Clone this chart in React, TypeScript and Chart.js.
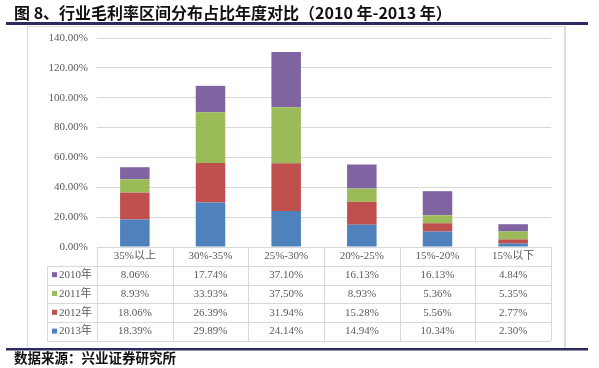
import React, { useEffect, useRef } from 'react';
import { Chart, registerables } from 'chart.js';
Chart.register(...registerables);

const categories = ['35%以上', '30%-35%', '25%-30%', '20%-25%', '15%-20%', '15%以下'];
const years = ['2010年', '2011年', '2012年', '2013年'];
const v2010 = [8.06, 17.74, 37.1, 16.13, 16.13, 4.84];
const v2011 = [8.93, 33.93, 37.5, 8.93, 5.36, 5.35];
const v2012 = [18.06, 26.39, 31.94, 15.28, 5.56, 2.77];
const v2013 = [18.39, 29.89, 24.14, 14.94, 10.34, 2.3];
const yMax = 140;
const yStep = 20;
const titleText = '图 8、行业毛利率区间分布占比年度对比（2010 年-2013 年）';
const sourceText = '数据来源：兴业证券研究所';

const colPurple = '#8064A2';
const colGreen = '#9BBB59';
const colRed = '#C0504D';
const colBlue = '#4F81BD';

const tableRows = [
  { label: years[0], color: colPurple, values: v2010 },
  { label: years[1], color: colGreen, values: v2011 },
  { label: years[2], color: colRed, values: v2012 },
  { label: years[3], color: colBlue, values: v2013 },
];

const textColor = '#595959';
const gridColor = '#d9d9d9';
const serif = "'Liberation Serif', 'Noto Sans CJK SC', serif";

const decorPlugin = {
  id: 'decor',
  beforeDraw(chart: any) {
    const ctx = chart.ctx;
    ctx.save();
    ctx.fillStyle = '#ffffff';
    ctx.fillRect(0, 0, chart.width, chart.height);
    // frame
    ctx.strokeStyle = '#dcdcdc';
    ctx.lineWidth = 1;
    ctx.strokeRect(27.5, 26.5, 537, 322);
    ctx.beginPath();
    ctx.moveTo(565.5, 26);
    ctx.lineTo(565.5, 349);
    ctx.stroke();
    // title
    ctx.fillStyle = '#111111';
    ctx.font = "bold 16px 'Noto Sans CJK SC', sans-serif";
    ctx.textBaseline = 'middle';
    ctx.textAlign = 'left';
    ctx.fillText(titleText, 14, 13);
    // navy lines
    ctx.fillStyle = '#2b2b5f';
    ctx.fillRect(6, 22, 582, 3);
    ctx.fillRect(6, 348, 582, 2.5);
    // source
    ctx.fillStyle = '#111111';
    ctx.font = "bold 13.5px 'Noto Sans CJK SC', sans-serif";
    ctx.fillText(sourceText, 14, 358);
    ctx.restore();
  },
  afterDraw(chart: any) {
    const ctx = chart.ctx;
    const ca = chart.chartArea;
    const xs = chart.scales.x;
    const n = categories.length;
    const colW = (ca.right - ca.left) / n;
    const top = ca.bottom;
    const rowH = 18.8;
    const legendLeft = 47;
    const bottom = top + rowH * 5;
    ctx.save();
    ctx.strokeStyle = gridColor;
    ctx.lineWidth = 1;
    ctx.beginPath();
    for (let k = 0; k <= 5; k++) {
      const y = Math.round(top + k * rowH) + 0.5;
      ctx.moveTo(k === 0 ? ca.left : legendLeft, y);
      ctx.lineTo(ca.right, y);
    }
    for (let j = 0; j <= n; j++) {
      const x = Math.round(ca.left + j * colW) + 0.5;
      ctx.moveTo(x, top);
      ctx.lineTo(x, bottom);
    }
    ctx.moveTo(legendLeft + 0.5, top + rowH);
    ctx.lineTo(legendLeft + 0.5, bottom);
    ctx.stroke();

    ctx.fillStyle = textColor;
    ctx.font = `11px ${serif}`;
    ctx.textBaseline = 'middle';
    ctx.textAlign = 'center';
    categories.forEach((c, i) => {
      ctx.fillText(c, xs.getPixelForValue(i), top + rowH / 2);
    });
    tableRows.forEach((r, k) => {
      const yc = top + rowH * (k + 1.5);
      ctx.fillStyle = r.color;
      ctx.fillRect(52, yc - 3, 5, 5);
      ctx.fillStyle = textColor;
      ctx.textAlign = 'left';
      ctx.fillText(r.label, 59, yc);
      ctx.textAlign = 'center';
      r.values.forEach((v, i) => {
        ctx.fillText(v.toFixed(2) + '%', xs.getPixelForValue(i), yc);
      });
    });
    ctx.restore();
  },
};

export default function App() {
  const ref = useRef<HTMLCanvasElement | null>(null);
  useEffect(() => {
    if (!ref.current) return;
    const chart = new Chart(ref.current, {
      type: 'bar',
      data: {
        labels: categories,
        datasets: [
          { label: years[3], data: v2013, backgroundColor: colBlue },
          { label: years[2], data: v2012, backgroundColor: colRed },
          { label: years[1], data: v2011, backgroundColor: colGreen },
          { label: years[0], data: v2010, backgroundColor: colPurple },
        ],
      },
      options: {
        responsive: false,
        animation: false,
        devicePixelRatio: 1,
        layout: { padding: { left: 27, right: 48, top: 38, bottom: 121 } },
        plugins: { legend: { display: false }, tooltip: { enabled: false }, title: { display: false } },
        datasets: { bar: { barPercentage: 0.6, categoryPercentage: 0.65 } },
        scales: {
          x: { stacked: true, display: false },
          y: {
            stacked: true,
            min: 0,
            max: yMax,
            afterFit: (s: any) => {
              s.width = 70;
            },
            border: { display: false },
            grid: { color: gridColor, drawTicks: false },
            ticks: {
              stepSize: yStep,
              padding: 9,
              color: textColor,
              font: { family: serif, size: 11 },
              callback: (v: any) => Number(v).toFixed(2) + '%',
            },
          },
        },
      },
      plugins: [decorPlugin],
    });
    return () => chart.destroy();
  }, []);
  return (
    <canvas
      ref={ref}
      width={599}
      height={368}
      style={{ position: 'absolute', left: 0, top: 0, width: 599, height: 368 }}
    />
  );
}
